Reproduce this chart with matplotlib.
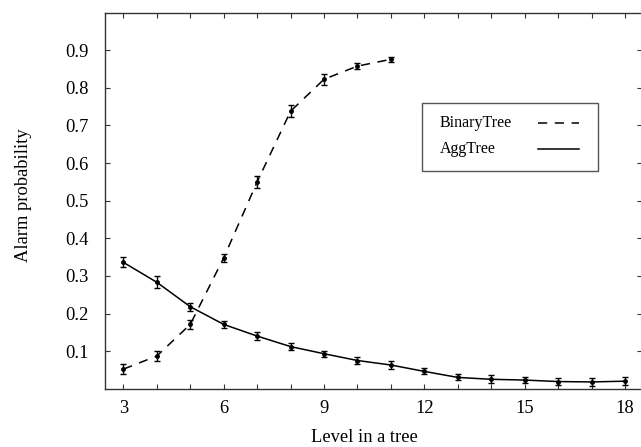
import matplotlib
matplotlib.use("Agg")
import matplotlib.pyplot as plt
from matplotlib.lines import Line2D
from matplotlib.patches import Rectangle

plt.rcParams['font.family'] = ['Liberation Serif', 'DejaVu Serif']

# Data
series_names = ["BinaryTree", "AggTree"]
binary_x = [3, 4, 5, 6, 7, 8, 9, 10, 11]
binary_y = [0.052, 0.087, 0.171, 0.348, 0.550, 0.738, 0.823, 0.858, 0.876]
binary_err = [0.013, 0.012, 0.011, 0.010, 0.017, 0.016, 0.015, 0.009, 0.0075]

agg_x = [3, 4, 5, 6, 7, 8, 9, 10, 11, 12, 13, 14, 15, 16, 17, 18]
agg_y = [0.336, 0.283, 0.218, 0.171, 0.140, 0.112, 0.093, 0.075, 0.063,
         0.046, 0.030, 0.025, 0.023, 0.019, 0.018, 0.020]
agg_err = [0.013, 0.016, 0.011, 0.010, 0.010, 0.009, 0.008, 0.010, 0.010,
           0.008, 0.008, 0.011, 0.007, 0.010, 0.010, 0.0105]

x_ticks = list(range(3, 19))
x_labels = [str(v) if v % 3 == 0 else "" for v in x_ticks]
y_ticks = [0.1, 0.2, 0.3, 0.4, 0.5, 0.6, 0.7, 0.8, 0.9]
y_labels = ["0.1", "0.2", "0.3", "0.4", "0.5", "0.6", "0.7", "0.8", "0.9"]

W, H = 641, 447
fig = plt.figure(figsize=(W / 100, H / 100), dpi=100)
ax_left, ax_right, ax_top, ax_bottom = 105, 641.7, 12.7, 388.7
ax = fig.add_axes([ax_left / W, 1 - ax_bottom / H,
                   (ax_right - ax_left) / W, (ax_bottom - ax_top) / H])

ax.errorbar(binary_x, binary_y, yerr=binary_err, color='black', lw=1.1,
            linestyle=(0, (6, 5)), marker='o', ms=2.5, capsize=2.5,
            elinewidth=1.0, capthick=1.0)
ax.errorbar(agg_x, agg_y, yerr=agg_err, color='black', lw=1.1,
            linestyle='-', marker='o', ms=2.5, capsize=2.5,
            elinewidth=1.0, capthick=1.0)

ax.set_xlim(2.45, 18.5)
ax.set_ylim(0, 1.0)
ax.set_xticks(x_ticks)
ax.set_xticklabels(x_labels)
ax.set_yticks(y_ticks)
ax.set_yticklabels(y_labels)

ax.tick_params(axis='both', direction='in', length=3.8, width=0.8,
               color='#333333', labelsize=13.3, top=True, right=True)
ax.tick_params(axis='y', pad=12)
ax.tick_params(axis='x', pad=8.3)
for s in ax.spines.values():
    s.set_color('#333333')
    s.set_linewidth(1.0)


def ax_x(px):
    return (px - ax_left) / (ax_right - ax_left)


def ax_y(py):
    return (ax_bottom - py) / (ax_bottom - ax_top)


ax.set_xlabel("Level in a tree", fontsize=13.3)
ax.xaxis.set_label_coords(ax_x(364), ax_y(429))
ax.set_ylabel("Alarm probability", fontsize=13.3)
ax.yaxis.set_label_coords(ax_x(32), ax_y(195))

# Legend (gnuplot style: text left, line sample right)
rect = Rectangle((ax_x(421.7), ax_y(170.7)), ax_x(598.3) - ax_x(421.7),
                 ax_y(103.3) - ax_y(170.7), transform=ax.transAxes,
                 fill=False, edgecolor='#555555', lw=1.0, zorder=5)
ax.add_patch(rect)
styles = [(0, (6, 5)), '-']
rows = [123.3, 149.3]
for name, ls, ry in zip(series_names, styles, rows):
    ax.text(ax_x(440), ax_y(ry), name, transform=ax.transAxes,
            fontsize=11.5, ha='left', va='center')
    ax.add_line(Line2D([ax_x(537.7), ax_x(579)], [ax_y(ry), ax_y(ry)],
                       transform=ax.transAxes, color='black', lw=1.1,
                       linestyle=ls))

fig.savefig("out.png", dpi=100)
